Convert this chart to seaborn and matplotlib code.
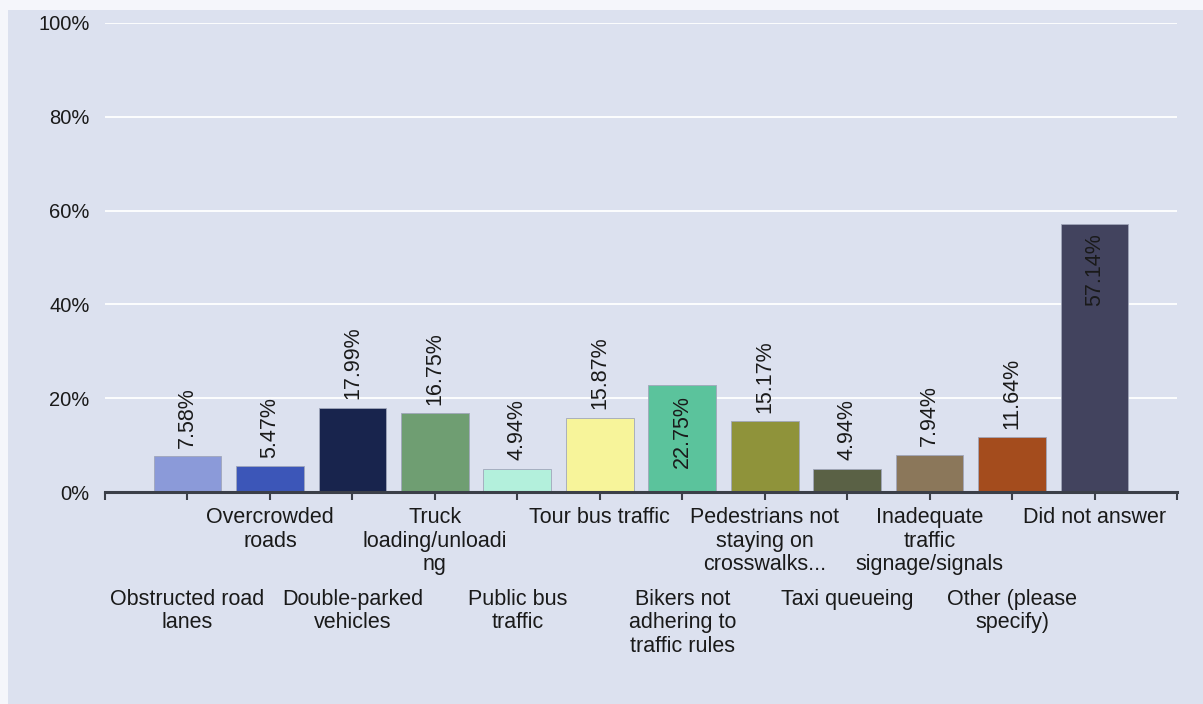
import numpy as np
import pandas as pd
import matplotlib
matplotlib.use("Agg")
import matplotlib.pyplot as plt
import seaborn as sns
from matplotlib.patches import Rectangle

# -----------------------------
# DATA
# -----------------------------
categories = [
    "Obstructed road\nlanes",
    "Overcrowded\nroads",
    "Double-parked\nvehicles",
    "Truck\nloading/unloadi\nng",
    "Public bus\ntraffic",
    "Tour bus traffic",
    "Bikers not\nadhering to\ntraffic rules",
    "Pedestrians not\nstaying on\ncrosswalks...",
    "Taxi queueing",
    "Inadequate\ntraffic\nsignage/signals",
    "Other (please\nspecify)",
    "Did not answer",
]
percents = [7.58, 5.47, 17.99, 16.75, 4.94, 15.87, 22.75, 15.17, 4.94, 7.94, 11.64, 57.14]
colors = ["#8b9ad9", "#3c56b8", "#18244d", "#6f9e72", "#b3f0dc", "#f7f49a",
          "#5bc39c", "#8f933a", "#5a6145", "#8b775a", "#a44c1d", "#42435e"]
inside_label = [False] * 6 + [True] + [False] * 4 + [True]
y_ticks = [0, 20, 40, 60, 80, 100]

df = pd.DataFrame({"category": categories, "pct": percents})

# -----------------------------
# STYLE
# -----------------------------
sns.set_theme(style="white")
plt.rcParams["font.family"] = ["Liberation Sans", "DejaVu Sans"]
bg = "#dce1ef"
txt = "#1a1a1a"
fs = 15.5

fig = plt.figure(figsize=(12.03, 7.04), dpi=100, facecolor=bg)
# light frame strips along top and left
fig.add_artist(Rectangle((0, 1 - 10 / 704), 1, 10 / 704, transform=fig.transFigure,
                         facecolor="#f5f6fb", edgecolor="none"))
fig.add_artist(Rectangle((0, 0), 8 / 1203, 1, transform=fig.transFigure,
                         facecolor="#f5f6fb", edgecolor="none"))
ax = fig.add_axes([105 / 1203, 212 / 704, (1177 - 105) / 1203, (492 - 23) / 704])
ax.set_facecolor(bg)

sns.barplot(data=df, x="category", y="pct", hue="category", palette=colors,
            saturation=1, legend=False, width=0.82, ax=ax,
            edgecolor="#a0a6ba", linewidth=0.6)

ax.set_xlim(-1, len(categories))
ax.set_ylim(0, 100)
ax.set_yticks(y_ticks)
ax.set_yticklabels([f"{v}%" for v in y_ticks], fontsize=14.5, color=txt)
ax.tick_params(axis="y", length=0, pad=11)
ax.grid(axis="y", color="white", linewidth=1.3)
ax.set_axisbelow(True)
ax.set_xlabel("")
ax.set_ylabel("")

for s in ["top", "right", "left"]:
    ax.spines[s].set_visible(False)
ax.spines["bottom"].set_color("#3b3f48")
ax.spines["bottom"].set_linewidth(2.2)

# ticks at bar centres plus both ends of the axis
ax.set_xticks(range(len(categories)))
ax.set_xticklabels([""] * len(categories))
ax.set_xticks(list(ax.get_xlim()), minor=True)
ax.tick_params(axis="x", which="both", direction="out", length=6, width=1.5,
               color="#3b3f48", bottom=True)

# staggered category labels
for i, lab in enumerate(categories):
    off = -11 if i % 2 == 1 else -70
    ax.annotate(lab, xy=(i, 0), xycoords=("data", "axes fraction"),
                xytext=(0, off), textcoords="offset points",
                ha="center", va="top", fontsize=fs, color=txt, linespacing=1.14,
                annotation_clip=False)

# value labels
for i, (v, inside) in enumerate(zip(percents, inside_label)):
    if inside:
        ax.annotate(f"{v:.2f}%", xy=(i, v), xytext=(0, -7), textcoords="offset points",
                    rotation=90, ha="center", va="top", fontsize=fs, color=txt)
    else:
        ax.annotate(f"{v:.2f}%", xy=(i, v), xytext=(0, 6), textcoords="offset points",
                    rotation=90, ha="center", va="bottom", fontsize=fs, color=txt)

plt.savefig("out.png", dpi=100, facecolor=fig.get_facecolor())
